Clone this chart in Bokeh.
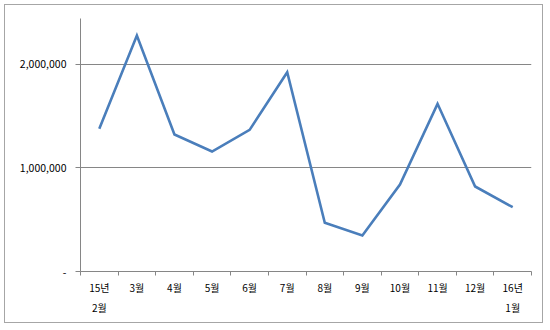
from bokeh.plotting import figure
from bokeh.models import Range1d, FixedTicker, LinearAxis
from bokeh.embed import file_html
from bokeh.resources import INLINE

months_line1 = ["15년", "3월", "4월", "5월", "6월", "7월", "8월", "9월", "10월", "11월", "12월", "16년"]
months_line2 = ["2월", "", "", "", "", "", "", "", "", "", "", "1월"]
values = [1376000, 2276000, 1321000, 1157000, 1366000, 1922000, 470000, 347000, 839000, 1617000, 820000, 620000]
y_ticks = [0, 1000000, 2000000]
y_labels = ["-", "1,000,000", "2,000,000"]

FONT = "Noto Sans CJK KR"
GRAY = "#868686"

xs = [i + 0.5 for i in range(len(values))]

p = figure(width=539, height=319, output_backend="svg", toolbar_location=None,
           x_range=Range1d(0, len(values)), y_range=Range1d(0, 2440000),
           x_axis_location=None, y_axis_location=None,
           min_border_left=75, min_border_right=13, min_border_top=13, min_border_bottom=53)
p.styles = {"border": "1px solid #A6A6A6", "margin-left": "4px", "margin-top": "4px"}
p.outline_line_color = None
p.background_fill_color = "white"
p.border_fill_color = "white"

p.line(xs, values, line_color="#4A7EBB", line_width=2.6, line_join="miter")

# y axis
yax = LinearAxis(ticker=FixedTicker(ticks=y_ticks, minor_ticks=[]))
yax.major_label_overrides = {t: l for t, l in zip(y_ticks, y_labels)}
yax.axis_line_color = GRAY
yax.major_tick_line_color = GRAY
yax.major_tick_in = 0
yax.major_tick_out = 5
yax.major_label_standoff = 9
yax.major_label_text_font = FONT
yax.major_label_text_font_size = "10.5px"
yax.major_label_text_color = "black"
p.add_layout(yax, "left")

# x axis: labels at category centers, tick marks between categories
tick_pos = list(range(len(values) + 1))
xax = LinearAxis(ticker=FixedTicker(ticks=xs, minor_ticks=tick_pos))
xax.major_label_overrides = {x: l for x, l in zip(xs, months_line1)}
xax.axis_line_color = GRAY
xax.major_tick_line_color = None
xax.minor_tick_line_color = GRAY
xax.minor_tick_in = 0
xax.minor_tick_out = 4
xax.major_label_standoff = 2
xax.major_label_text_font = FONT
xax.major_label_text_font_size = "10px"
xax.major_label_text_color = "black"
p.add_layout(xax, "below")

xax2 = LinearAxis(ticker=FixedTicker(ticks=xs, minor_ticks=[]))
xax2.major_label_overrides = {x: (l if l else " ") for x, l in zip(xs, months_line2)}
xax2.axis_line_color = None
xax2.major_tick_line_color = None
xax2.major_tick_in = 0
xax2.major_tick_out = 0
xax2.major_label_standoff = 2
xax2.major_label_text_font = FONT
xax2.major_label_text_font_size = "10px"
xax2.major_label_text_color = "black"
p.add_layout(xax2, "below")

p.ygrid.ticker = FixedTicker(ticks=y_ticks[1:])
p.ygrid.grid_line_color = GRAY
p.ygrid.grid_line_width = 1
p.xgrid.grid_line_color = None

open("out.html", "w").write(file_html(p, INLINE))
